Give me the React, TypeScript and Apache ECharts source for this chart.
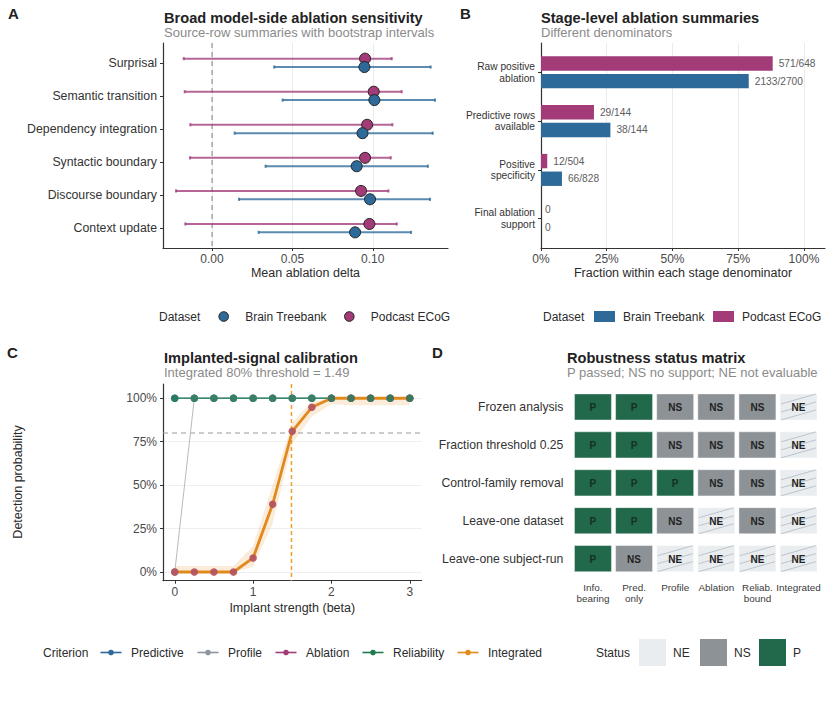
import { useEffect, useRef } from "react";
import * as echarts from "echarts";

const FONT = '"Liberation Sans", Arial, Helvetica, sans-serif';

// ---- Panel A: model-side ablation sensitivity (mean delta, bootstrap interval)
const features = [
  "Surprisal",
  "Semantic transition",
  "Dependency integration",
  "Syntactic boundary",
  "Discourse boundary",
  "Context update",
];
const brainMean = [0.0948, 0.101, 0.0936, 0.09, 0.0983, 0.089];
const brainLow = [0.0387, 0.0439, 0.0141, 0.0333, 0.0168, 0.029];
const brainHigh = [0.136, 0.1387, 0.1373, 0.1343, 0.1356, 0.1238];
const podcastMean = [0.0952, 0.1006, 0.0965, 0.0952, 0.0927, 0.0979];
const podcastLow = [-0.0176, -0.017, -0.0135, -0.0137, -0.0224, -0.0166];
const podcastHigh = [0.1118, 0.118, 0.1122, 0.1112, 0.1097, 0.1149];
const deltaTicks = [0, 0.05, 0.1];

// ---- Panel B: stage-level summaries, each with its own denominator
const stages = [
  "Raw positive\nablation",
  "Predictive rows\navailable",
  "Positive\nspecificity",
  "Final ablation\nsupport",
];
const brainNum = [2133, 38, 66, 0];
const brainDen: (number | null)[] = [2700, 144, 828, null];
const podcastNum = [571, 29, 12, 0];
const podcastDen: (number | null)[] = [648, 144, 504, null];
const fractionTicks = [0, 0.25, 0.5, 0.75, 1];

// ---- Panel C: implanted-signal calibration curves
const betas = [0, 0.25, 0.5, 0.75, 1, 1.25, 1.5, 1.75, 2, 2.25, 2.5, 2.75, 3];
const predictive = [1, 1, 1, 1, 1, 1, 1, 1, 1, 1, 1, 1, 1];
const profile = [0, 1, 1, 1, 1, 1, 1, 1, 1, 1, 1, 1, 1];
const ablation = [0, 0, 0, 0, 0.081, 0.39, 0.81, 0.948, 1, 1, 1, 1, 1];
const reliability = [1, 1, 1, 1, 1, 1, 1, 1, 1, 1, 1, 1, 1];
const integrated = [0, 0, 0, 0, 0.081, 0.39, 0.81, 0.948, 1, 1, 1, 1, 1];
const integratedLow = [0, 0, 0, 0, 0.03, 0.28, 0.74, 0.895, 0.965, 0.96, 0.96, 0.96, 0.96];
const integratedHigh = [0.035, 0.035, 0.035, 0.035, 0.15, 0.5, 0.86, 0.98, 1, 1, 1, 1, 1];
const detectionTarget = 0.8;
const integratedThreshold = 1.49;
const betaTicks = [0, 1, 2, 3];
const probTicks = [0, 0.25, 0.5, 0.75, 1];
const criteria = ["Predictive", "Profile", "Ablation", "Reliability", "Integrated"];

// ---- Panel D: robustness status matrix
const checks = [
  "Frozen analysis",
  "Fraction threshold 0.25",
  "Control-family removal",
  "Leave-one dataset",
  "Leave-one subject-run",
];
const checkColumns = ["Info.\nbearing", "Pred.\nonly", "Profile", "Ablation", "Reliab.\nbound", "Integrated"];
const statusRows = [
  ["P", "P", "NS", "NS", "NS", "NE"],
  ["P", "P", "NS", "NS", "NS", "NE"],
  ["P", "P", "P", "NS", "NS", "NE"],
  ["P", "P", "NS", "NE", "NS", "NE"],
  ["P", "NS", "NE", "NE", "NE", "NE"],
];
const statusLevels = ["NE", "NS", "P"];

// ---- styling
const datasetNames = ["Brain Treebank", "Podcast ECoG"];
const datasetColors = ["#2D6A9A", "#A23B78"];
const criterionColors = ["#2D6A9A", "#8E959C", "#A23B78", "#1F7A4D", "#E08A1E"];
const statusColors: Record<string, string> = { NE: "#E9EDF0", NS: "#8D9297", P: "#21694A" };
const AXIS = "#333333";
const GRID = "#EBEBEB";
const TICK_TEXT = "#4A4A4A";

const DODGE = 0.127;
const BAR_OFF = 0.181;
const BAR_H = 0.295;

function txt(
  text: string,
  x: number,
  y: number,
  o: { size?: number; weight?: string; fill?: string; align?: string; rotation?: number } = {}
) {
  return {
    type: "text",
    x,
    y,
    rotation: o.rotation ?? 0,
    silent: true,
    style: {
      text,
      fill: o.fill ?? "#333",
      fontSize: o.size ?? 12,
      fontWeight: o.weight ?? "normal",
      fontFamily: FONT,
      align: o.align ?? "left",
      verticalAlign: "middle",
    },
  };
}

// Dashed reference line spanning the whole plotting area of one grid
function refLine(
  axisIdx: number,
  value: number,
  dim: "x" | "y",
  color: string,
  dash: number[],
  width: number
) {
  return {
    type: "custom",
    xAxisIndex: axisIdx,
    yAxisIndex: axisIdx,
    silent: true,
    z: 1,
    data: dim === "x" ? [[value, 0.5]] : [[0, value]],
    encode: { x: 0, y: 1 },
    renderItem: (params: any, api: any) => {
      const cs = params.coordSys;
      const p = api.coord([api.value(0), api.value(1)]);
      const shape =
        dim === "x"
          ? { x1: p[0], y1: cs.y, x2: p[0], y2: cs.y + cs.height }
          : { x1: cs.x, y1: p[1], x2: cs.x + cs.width, y2: p[1] };
      return { type: "line", shape, style: { stroke: color, fill: "none", lineWidth: width, lineDash: dash } };
    },
  };
}

function buildOption() {
  // Panel A rows
  const errRows: number[][] = [];
  features.forEach((_, i) => {
    errRows.push([podcastLow[i], podcastHigh[i], i + 1 - DODGE, 1]);
    errRows.push([brainLow[i], brainHigh[i], i + 1 + DODGE, 0]);
  });

  // Panel B rows
  const frac = (n: number, d: number | null) => (d ? n / d : 0);
  const lab = (n: number, d: number | null) => (d ? `${n}/${d}` : `${n}`);
  const barRows: (number | string)[][] = [];
  stages.forEach((_, i) => {
    barRows.push([frac(podcastNum[i], podcastDen[i]), i + 1 - BAR_OFF, 1, lab(podcastNum[i], podcastDen[i])]);
    barRows.push([frac(brainNum[i], brainDen[i]), i + 1 + BAR_OFF, 0, lab(brainNum[i], brainDen[i])]);
  });

  // Panel D cells
  const cells: number[][] = [];
  statusRows.forEach((row, r) =>
    row.forEach((s, c) => cells.push([c + 1, r + 1, statusLevels.indexOf(s)]))
  );

  const curve = (arr: number[]) => betas.map((b, i) => [b, arr[i]]);

  const baseAxis = {
    axisLine: { show: true, onZero: false, lineStyle: { color: AXIS, width: 1.2 } },
    axisTick: { show: true, length: 3, lineStyle: { color: AXIS, width: 1 } },
    splitLine: { show: false },
    nameTextStyle: { fontFamily: FONT, fontSize: 12.5, color: "#2b2b2b" },
  };
  const lbl = (size: number, margin: number, extra: object = {}) => ({
    fontFamily: FONT,
    fontSize: size,
    color: TICK_TEXT,
    margin,
    ...extra,
  });

  const pct = (v: number) => `${Math.round(v * 100)}%`;

  const graphic: any[] = [
    // panel letters
    txt("A", 8, 13, { size: 15, weight: "bold", fill: "#222" }),
    txt("B", 460, 13, { size: 15, weight: "bold", fill: "#222" }),
    txt("C", 7, 352, { size: 15, weight: "bold", fill: "#222" }),
    txt("D", 432, 352, { size: 15, weight: "bold", fill: "#222" }),
    // titles
    txt("Broad model-side ablation sensitivity", 164, 17.5, { size: 14.6, weight: "bold", fill: "#222" }),
    txt("Source-row summaries with bootstrap intervals", 164, 32.5, { size: 13, fill: "#8A8A8A" }),
    txt("Stage-level ablation summaries", 541, 17.5, { size: 14.6, weight: "bold", fill: "#222" }),
    txt("Different denominators", 541, 32.5, { size: 13, fill: "#8A8A8A" }),
    txt("Implanted-signal calibration", 164, 357.5, { size: 14.6, weight: "bold", fill: "#222" }),
    txt(`Integrated 80% threshold = ${integratedThreshold.toFixed(2)}`, 164, 372.5, { size: 13, fill: "#8A8A8A" }),
    txt("Robustness status matrix", 567, 357.5, { size: 14.6, weight: "bold", fill: "#222" }),
    txt("P passed; NS no support; NE not evaluable", 567, 372.5, { size: 13, fill: "#8A8A8A" }),
    txt("Detection probability", 18, 482, { size: 12.5, fill: "#2b2b2b", align: "center", rotation: Math.PI / 2 }),
  ];

  // Dataset legend for panel A (points)
  graphic.push(txt("Dataset", 159, 316.5, { size: 12, fill: "#2b2b2b" }));
  const legA = [223.7, 349.3];
  datasetNames.forEach((n, i) => {
    graphic.push({
      type: "circle",
      silent: true,
      shape: { cx: legA[i], cy: 316.5, r: 4.8 },
      style: { fill: datasetColors[i], stroke: "#222", lineWidth: 1 },
    });
    graphic.push(txt(n, legA[i] + 21.5, 316.5, { size: 12, fill: "#2b2b2b" }));
  });

  // Dataset legend for panel B (bars)
  graphic.push(txt("Dataset", 543, 316.5, { size: 12, fill: "#2b2b2b" }));
  const legB = [594, 713];
  datasetNames.forEach((n, i) => {
    graphic.push({
      type: "rect",
      silent: true,
      shape: { x: legB[i], y: 311, width: 21, height: 11 },
      style: { fill: datasetColors[i] },
    });
    graphic.push(txt(n, legB[i] + 29, 316.5, { size: 12, fill: "#2b2b2b" }));
  });

  // Criterion legend for panel C
  graphic.push(txt("Criterion", 43, 652.5, { size: 12, fill: "#2b2b2b" }));
  const legC = [111, 208, 286, 373, 468];
  criteria.forEach((n, i) => {
    graphic.push({
      type: "line",
      silent: true,
      shape: { x1: legC[i] - 10.5, y1: 652.5, x2: legC[i] + 10.5, y2: 652.5 },
      style: { stroke: criterionColors[i], lineWidth: 1.6 },
    });
    graphic.push({
      type: "circle",
      silent: true,
      shape: { cx: legC[i], cy: 652.5, r: 2.8 },
      style: { fill: criterionColors[i] },
    });
    graphic.push(txt(n, legC[i] + 20, 652.5, { size: 12, fill: "#2b2b2b" }));
  });

  // Status legend for panel D
  graphic.push(txt("Status", 596, 652.5, { size: 12, fill: "#2b2b2b" }));
  const legD = [639, 700, 759];
  statusLevels.forEach((s, i) => {
    graphic.push({
      type: "rect",
      silent: true,
      shape: { x: legD[i], y: 639, width: 27, height: 27 },
      style: { fill: statusColors[s] },
    });
    graphic.push(txt(s, legD[i] + 34, 652.5, { size: 12, fill: "#2b2b2b" }));
  });

  return {
    animation: false,
    backgroundColor: "#ffffff",
    textStyle: { fontFamily: FONT },
    graphic,
    grid: [
      { left: 163, top: 43, width: 285, height: 205 },
      { left: 541, top: 43, width: 284, height: 205 },
      { left: 163, top: 384, width: 258.5, height: 196.7 },
      { left: 572.4, top: 388, width: 246.7, height: 189.6 },
    ],
    xAxis: [
      {
        ...baseAxis,
        type: "value",
        gridIndex: 0,
        min: -0.0305,
        max: 0.1468,
        name: "Mean ablation delta",
        nameLocation: "middle",
        nameGap: 18,
        axisTick: { ...baseAxis.axisTick, customValues: deltaTicks },
        axisLabel: lbl(12, 5, { customValues: deltaTicks, formatter: (v: number) => v.toFixed(2) }),
        splitLine: { show: true, lineStyle: { color: GRID, width: 1 } },
      },
      {
        ...baseAxis,
        type: "value",
        gridIndex: 1,
        min: 0,
        max: 1.08,
        name: "Fraction within each stage denominator",
        nameLocation: "middle",
        nameGap: 18,
        axisTick: { ...baseAxis.axisTick, customValues: fractionTicks },
        axisLabel: lbl(12, 5, { customValues: fractionTicks, formatter: pct }),
        splitLine: { show: true, lineStyle: { color: GRID, width: 1 } },
      },
      {
        ...baseAxis,
        type: "value",
        gridIndex: 2,
        min: -0.15,
        max: 3.15,
        name: "Implant strength (beta)",
        nameLocation: "middle",
        nameGap: 21,
        axisTick: { ...baseAxis.axisTick, customValues: betaTicks },
        axisLabel: lbl(12, 5, { customValues: betaTicks, formatter: (v: number) => `${v}` }),
      },
      {
        type: "value",
        gridIndex: 3,
        min: 0.5,
        max: 6.5,
        axisLine: { show: false, onZero: false },
        axisTick: { show: false, customValues: [1, 2, 3, 4, 5, 6] },
        splitLine: { show: false },
        axisLabel: lbl(9.9, 4, {
          color: "#3a3a3a",
          lineHeight: 11,
          customValues: [1, 2, 3, 4, 5, 6],
          formatter: (v: number) => checkColumns[Math.round(v) - 1] ?? "",
        }),
      },
    ],
    yAxis: [
      {
        ...baseAxis,
        type: "value",
        gridIndex: 0,
        inverse: true,
        min: 0.4,
        max: 6.6,
        axisTick: { ...baseAxis.axisTick, customValues: [1, 2, 3, 4, 5, 6] },
        axisLabel: lbl(12.3, 6, {
          color: "#333",
          customValues: [1, 2, 3, 4, 5, 6],
          formatter: (v: number) => features[Math.round(v) - 1] ?? "",
        }),
      },
      {
        ...baseAxis,
        type: "value",
        gridIndex: 1,
        inverse: true,
        min: 0.4,
        max: 4.6,
        axisTick: { ...baseAxis.axisTick, customValues: [1, 2, 3, 4] },
        axisLabel: lbl(10.2, 6, {
          color: "#333",
          lineHeight: 11.5,
          align: "right",
          customValues: [1, 2, 3, 4],
          formatter: (v: number) => stages[Math.round(v) - 1] ?? "",
        }),
      },
      {
        ...baseAxis,
        type: "value",
        gridIndex: 2,
        min: -0.05,
        max: 1.082,
        axisTick: { ...baseAxis.axisTick, customValues: probTicks },
        axisLabel: lbl(12, 6, { customValues: probTicks, formatter: pct }),
        splitLine: { show: true, lineStyle: { color: "#EFEFEF", width: 1 } },
      },
      {
        type: "value",
        gridIndex: 3,
        inverse: true,
        min: 0.5,
        max: 5.5,
        axisLine: { show: false, onZero: false },
        axisTick: { show: false, customValues: [1, 2, 3, 4, 5] },
        splitLine: { show: false },
        axisLabel: lbl(12.2, 9, {
          color: "#333",
          customValues: [1, 2, 3, 4, 5],
          formatter: (v: number) => checks[Math.round(v) - 1] ?? "",
        }),
      },
    ],
    series: [
      // ---- A: zero reference
      refLine(0, 0, "x", "#8C8C8C", [5, 4], 1.1),
      // ---- A: bootstrap intervals
      {
        type: "custom",
        xAxisIndex: 0,
        yAxisIndex: 0,
        data: errRows,
        encode: { x: [0, 1], y: 2 },
        renderItem: (_p: any, api: any) => {
          const y = api.value(2);
          const lo = api.coord([api.value(0), y]);
          const hi = api.coord([api.value(1), y]);
          const style = { stroke: datasetColors[api.value(3)], lineWidth: 2, opacity: 0.78 };
          return {
            type: "group",
            children: [
              { type: "line", shape: { x1: lo[0], y1: lo[1], x2: hi[0], y2: hi[1] }, style },
              { type: "line", shape: { x1: lo[0], y1: lo[1] - 1.6, x2: lo[0], y2: lo[1] + 1.6 }, style },
              { type: "line", shape: { x1: hi[0], y1: hi[1] - 1.6, x2: hi[0], y2: hi[1] + 1.6 }, style },
            ],
          };
        },
        z: 2,
      },
      {
        name: datasetNames[1],
        type: "scatter",
        xAxisIndex: 0,
        yAxisIndex: 0,
        data: features.map((_, i) => [podcastMean[i], i + 1 - DODGE]),
        symbolSize: 11,
        itemStyle: { color: datasetColors[1], borderColor: "#222", borderWidth: 1, opacity: 1 },
        z: 3,
      },
      {
        name: datasetNames[0],
        type: "scatter",
        xAxisIndex: 0,
        yAxisIndex: 0,
        data: features.map((_, i) => [brainMean[i], i + 1 + DODGE]),
        symbolSize: 11,
        itemStyle: { color: datasetColors[0], borderColor: "#222", borderWidth: 1, opacity: 1 },
        z: 3,
      },
      // ---- B: stage fractions
      {
        type: "custom",
        xAxisIndex: 1,
        yAxisIndex: 1,
        data: barRows,
        encode: { x: 0, y: 1 },
        renderItem: (_p: any, api: any) => {
          const v = api.value(0);
          const y = api.value(1);
          const d = api.value(2);
          const label = api.value(3);
          const start = api.coord([0, y]);
          const end = api.coord([v, y]);
          const h = Math.abs(api.size([0, BAR_H])[1]);
          return {
            type: "group",
            children: [
              {
                type: "rect",
                shape: { x: start[0], y: start[1] - h / 2, width: end[0] - start[0], height: h },
                style: { fill: datasetColors[d] },
              },
              {
                type: "text",
                style: {
                  text: String(label),
                  x: end[0] + (v > 0 ? 6 : 4),
                  y: end[1],
                  fill: "#5E5E5E",
                  fontSize: 10.2,
                  fontFamily: FONT,
                  align: "left",
                  verticalAlign: "middle",
                },
              },
            ],
          };
        },
      },
      // ---- C: uncertainty ribbon for the integrated criterion
      {
        type: "custom",
        xAxisIndex: 2,
        yAxisIndex: 2,
        data: [[betas[0], integratedLow[0]]],
        encode: { x: 0, y: 1 },
        renderItem: (p: any, api: any) => {
          if (p.dataIndex !== 0) return null;
          const upper = betas.map((b, i) => api.coord([b, integratedHigh[i]]));
          const lower = betas.map((b, i) => api.coord([b, integratedLow[i]])).reverse();
          return {
            type: "polygon",
            shape: { points: upper.concat(lower) },
            style: { fill: "rgba(232,150,50,0.18)" },
          };
        },
        z: 1,
      },
      // ---- C: reference lines (80% target, integrated threshold)
      refLine(2, detectionTarget, "y", "#9A9A9A", [5, 4], 1.1),
      refLine(2, integratedThreshold, "x", "#F39C2C", [4, 3], 1.5),
      // ---- C: criterion curves
      ...criteria.map((name, k) => {
        const vals = [predictive, profile, ablation, reliability, integrated][k];
        const widths = [1.2, 1, 1.2, 1.4, 2.8];
        const lineColors = ["#2D6A9A", "#B5BBC1", "#A23B78", "#3A8A6A", "#E08A1E"];
        return {
          name,
          type: "line",
          xAxisIndex: 2,
          yAxisIndex: 2,
          data: curve(vals),
          symbol: "none",
          showSymbol: false,
          lineStyle: { color: lineColors[k], width: widths[k] },
          z: 2,
        };
      }),
      // ---- C: criterion points (integrated has none)
      ...criteria.slice(0, 4).map((name, k) => {
        const vals = [predictive, profile, ablation, reliability][k];
        const pointColors = ["#2D6A9A", "#8E959C", "#B5545F", "#2C7D5C"];
        const op = [1, 0.9, 0.95, 0.85];
        return {
          name,
          type: "scatter",
          xAxisIndex: 2,
          yAxisIndex: 2,
          data: curve(vals),
          symbolSize: 7.5,
          itemStyle: { color: pointColors[k], opacity: op[k] },
          z: 4,
        };
      }),
      // ---- D: status tiles
      {
        type: "custom",
        xAxisIndex: 3,
        yAxisIndex: 3,
        data: cells,
        encode: { x: 0, y: 1 },
        renderItem: (_p: any, api: any) => {
          const c = api.coord([api.value(0), api.value(1)]);
          const sz = api.size([0.9, 0.69]);
          const w = Math.abs(sz[0]);
          const h = Math.abs(sz[1]);
          const status = statusLevels[api.value(2)];
          const x0 = c[0] - w / 2;
          const y0 = c[1] - h / 2;
          const children: any[] = [
            {
              type: "rect",
              shape: { x: x0, y: y0, width: w, height: h },
              style: { fill: statusColors[status], stroke: "rgba(255,255,255,0.45)", lineWidth: 1 },
            },
          ];
          if (status === "NE") {
            [-1, 0, 1].forEach((k) => {
              children.push({
                type: "line",
                shape: { x1: x0 + 1, y1: c[1] + 5 + 8 * k, x2: x0 + w - 1, y2: c[1] - 5 + 8 * k },
                style: { stroke: "#A9B1B8", lineWidth: 0.7 },
              });
            });
          }
          children.push({
            type: "text",
            style: {
              text: status,
              x: c[0],
              y: c[1] + 0.5,
              fill: status === "P" ? "#16301F" : "#222",
              fontSize: 10,
              fontWeight: "bold",
              fontFamily: FONT,
              align: "center",
              verticalAlign: "middle",
            },
          });
          return { type: "group", children };
        },
      },
    ],
  };
}

export default function App() {
  const ref = useRef<HTMLDivElement>(null);
  useEffect(() => {
    const el = ref.current;
    if (!el) return;
    const chart = echarts.init(el, null, { renderer: "svg" });
    chart.setOption(buildOption() as any);
    return () => chart.dispose();
  }, []);
  return (
    <div
      ref={ref}
      style={{ position: "fixed", left: 0, top: 0, width: 832, height: 706, background: "#fff" }}
    />
  );
}
